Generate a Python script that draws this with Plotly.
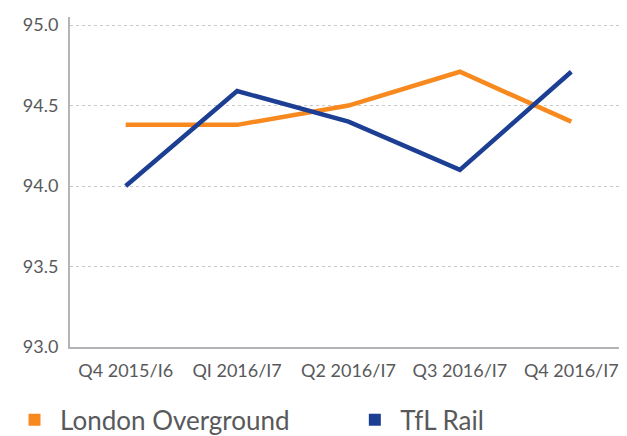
import plotly.graph_objects as go

# Quarters shown on the x axis
quarters = ["Q4 2015/16", "Q1 2016/17", "Q2 2016/17", "Q3 2016/17", "Q4 2016/17"]
tick_labels = ["Q4 2015/I6", "QI 2016/I7", "Q2 2016/I7", "Q3 2016/I7", "Q4 2016/I7"]

# Customer satisfaction scores
london_overground = [94.38, 94.38, 94.5, 94.71, 94.4]
tfl_rail = [94.0, 94.59, 94.4, 94.1, 94.71]

ORANGE = "#F7891F"
BLUE = "#1C3F94"
GREY_TEXT = "#58595B"
FONT = "Lato, sans-serif"

fig = go.Figure()

# the lines themselves (legend handled by square-marker dummies below)
fig.add_trace(go.Scatter(x=quarters, y=london_overground, mode="lines",
                         line=dict(color=ORANGE, width=4.5), showlegend=False,
                         name="London Overground"))
fig.add_trace(go.Scatter(x=quarters, y=tfl_rail, mode="lines",
                         line=dict(color=BLUE, width=4.5), showlegend=False,
                         name="TfL Rail"))

# legend entries as filled squares, each in its own legend box
for name, color, leg in [("London Overground", ORANGE, "legend"),
                         ("TfL Rail", BLUE, "legend2")]:
    fig.add_trace(go.Scatter(x=[None], y=[None], mode="markers", name=name,
                             legend=leg,
                             marker=dict(symbol="square", size=16, color=color)))

fig.update_xaxes(
    type="category",
    tickvals=quarters,
    ticktext=tick_labels,
    range=[-0.5, 4.5],
    showline=True, linecolor="#B3B3B8", linewidth=2,
    showgrid=False, ticks="", ticklabelstandoff=6,
    tickfont=dict(family=FONT, size=18, color=GREY_TEXT),
)
fig.update_yaxes(
    range=[93, 95.05],
    tickvals=[93.0, 93.5, 94.0, 94.5, 95.0],
    ticktext=["93.0", "93.5", "94.0", "94.5", "95.0"],
    showline=True, linecolor="#B3B3B8", linewidth=2,
    showgrid=True, gridcolor="#C8C8C8", griddash="dot", gridwidth=1,
    zeroline=False, ticks="", ticklabelstandoff=6,
    tickfont=dict(family=FONT, size=18, color=GREY_TEXT),
)

legend_style = dict(orientation="h", yanchor="middle", y=-0.221, xanchor="left",
                    font=dict(family=FONT, size=26, color=GREY_TEXT),
                    itemsizing="constant", itemwidth=41,
                    bgcolor="rgba(0,0,0,0)")

# the page adds an 8px body margin, so the figure is 8px smaller than the window
fig.update_layout(
    width=619, height=428,
    margin=dict(l=62, r=0, t=9, b=89, autoexpand=False),
    paper_bgcolor="white", plot_bgcolor="white",
    font=dict(family=FONT, color=GREY_TEXT),
    legend=dict(x=-0.1095, **legend_style),
    legend2=dict(x=0.5015, **legend_style),
)

fig.write_html("out.html")
